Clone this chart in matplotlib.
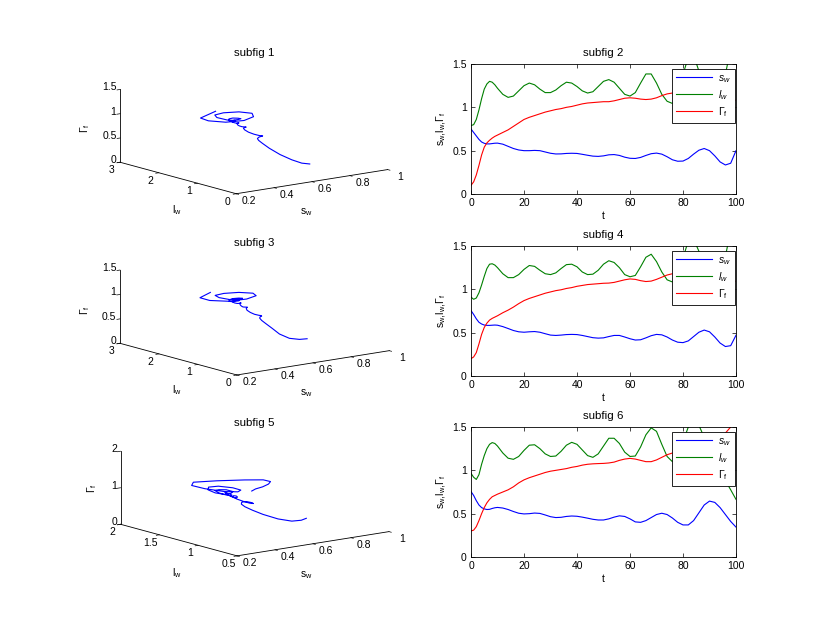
import numpy as np
import matplotlib
matplotlib.use('Agg')
import matplotlib.pyplot as plt
from matplotlib.transforms import offset_copy

plt.rcParams['font.family'] = ['Liberation Sans', 'DejaVu Sans']
plt.rcParams['font.size'] = 7.5
plt.rcParams['mathtext.fontset'] = 'custom'
plt.rcParams['mathtext.rm'] = 'Liberation Sans'
plt.rcParams['mathtext.it'] = 'Liberation Sans:italic'
plt.rcParams['mathtext.sf'] = 'Liberation Sans'
TITLE_FS = 8.25

# ---------------- data ----------------
t = [0, 1, 2, 3, 4, 5, 6, 7, 8, 9, 10, 12, 14, 16, 18, 20, 22, 24, 26, 28, 30,
     32, 34, 36, 38, 40, 42, 44, 46, 48, 50, 52, 54, 56, 58, 60, 62, 64, 66, 68, 70,
     72, 74, 76, 78, 80, 82, 84, 86, 88, 90, 92, 94, 96, 98, 100]

# run A (subfig 1 / subfig 2)
sw_A = [0.75, 0.71, 0.67, 0.63, 0.60, 0.585, 0.578, 0.578, 0.582, 0.586, 0.587,
        0.575, 0.55, 0.525, 0.508, 0.50, 0.50, 0.503, 0.50, 0.485, 0.47,
        0.462, 0.463, 0.468, 0.47, 0.468, 0.458, 0.447, 0.437, 0.434, 0.44,
        0.452, 0.455, 0.445, 0.425, 0.412, 0.41, 0.422, 0.445, 0.465, 0.472,
        0.46, 0.43, 0.395, 0.378, 0.38, 0.41, 0.46, 0.505, 0.525, 0.50,
        0.44, 0.37, 0.335, 0.355, 0.50]
lw_A = [0.79, 0.80, 0.86, 0.97, 1.10, 1.21, 1.27, 1.30, 1.29, 1.26, 1.22,
        1.15, 1.115, 1.13, 1.19, 1.25, 1.28, 1.26, 1.21, 1.17, 1.17,
        1.20, 1.25, 1.29, 1.28, 1.24, 1.19, 1.165, 1.18, 1.24, 1.30,
        1.32, 1.29, 1.22, 1.15, 1.13, 1.17, 1.28, 1.385, 1.385, 1.28,
        1.15, 1.07, 1.045, 1.10, 1.38, 1.58, 1.60, 1.42, 1.18, 1.02,
        0.97, 1.10, 1.38, 1.68, 2.00]
Gf_A = [0.10, 0.14, 0.22, 0.33, 0.45, 0.54, 0.59, 0.62, 0.645, 0.665, 0.68,
        0.71, 0.74, 0.78, 0.82, 0.86, 0.885, 0.905, 0.925, 0.945, 0.96,
        0.975, 0.985, 1.0, 1.01, 1.025, 1.04, 1.05, 1.055, 1.06, 1.065,
        1.065, 1.075, 1.09, 1.105, 1.11, 1.105, 1.095, 1.09, 1.095, 1.11,
        1.135, 1.155, 1.165, 1.17, 1.16, 1.15, 1.16, 1.19, 1.2, 1.18,
        1.15, 1.13, 1.12, 1.10, 1.08]

# run B (subfig 3 / subfig 4)
sw_B = [0.755, 0.71, 0.66, 0.62, 0.60, 0.588, 0.584, 0.584, 0.586, 0.588, 0.586,
        0.57, 0.548, 0.525, 0.51, 0.505, 0.51, 0.513, 0.505, 0.488, 0.472,
        0.468, 0.472, 0.478, 0.48, 0.478, 0.468, 0.455, 0.442, 0.437, 0.44,
        0.455, 0.468, 0.468, 0.45, 0.43, 0.415, 0.418, 0.44, 0.465, 0.48,
        0.475, 0.45, 0.415, 0.39, 0.385, 0.405, 0.455, 0.505, 0.53, 0.51,
        0.45, 0.38, 0.34, 0.35, 0.47]
lw_B = [0.91, 0.885, 0.90, 0.96, 1.05, 1.15, 1.24, 1.29, 1.295, 1.28, 1.25,
        1.18, 1.135, 1.135, 1.17, 1.23, 1.275, 1.265, 1.22, 1.18, 1.17,
        1.19, 1.24, 1.285, 1.29, 1.26, 1.20, 1.17, 1.175, 1.22, 1.29,
        1.33, 1.31, 1.25, 1.17, 1.145, 1.16, 1.26, 1.37, 1.405, 1.32,
        1.20, 1.11, 1.085, 1.12, 1.36, 1.56, 1.58, 1.44, 1.20, 1.02,
        0.97, 1.10, 1.38, 1.68, 2.00]
Gf_B = [0.20, 0.22, 0.27, 0.37, 0.48, 0.56, 0.61, 0.645, 0.665, 0.68, 0.695,
        0.73, 0.76, 0.795, 0.835, 0.87, 0.895, 0.915, 0.935, 0.955, 0.97,
        0.985, 0.995, 1.01, 1.02, 1.035, 1.045, 1.055, 1.06, 1.065, 1.07,
        1.072, 1.08, 1.095, 1.11, 1.12, 1.115, 1.10, 1.09, 1.095, 1.115,
        1.14, 1.165, 1.18, 1.185, 1.175, 1.165, 1.17, 1.19, 1.21, 1.21,
        1.19, 1.16, 1.14, 1.125, 1.09]

# run C (subfig 5 / subfig 6)
sw_C = [0.755, 0.71, 0.65, 0.60, 0.57, 0.555, 0.548, 0.55, 0.56, 0.568, 0.572,
        0.565, 0.548, 0.525, 0.505, 0.497, 0.50, 0.507, 0.503, 0.485, 0.465,
        0.455, 0.458, 0.468, 0.473, 0.47, 0.46, 0.448, 0.435, 0.427, 0.427,
        0.44, 0.46, 0.475, 0.468, 0.44, 0.405, 0.40, 0.42, 0.455, 0.49,
        0.505, 0.49, 0.45, 0.40, 0.37, 0.37, 0.42, 0.51, 0.60, 0.645,
        0.63, 0.57, 0.49, 0.41, 0.345]
lw_C = [0.965, 0.92, 0.895, 0.95, 1.07, 1.17, 1.25, 1.30, 1.32, 1.31, 1.28,
        1.20, 1.14, 1.127, 1.16, 1.23, 1.29, 1.295, 1.25, 1.19, 1.16,
        1.165, 1.22, 1.29, 1.323, 1.30, 1.235, 1.17, 1.15, 1.19, 1.28,
        1.37, 1.37, 1.31, 1.21, 1.16, 1.165, 1.27, 1.41, 1.49, 1.45,
        1.30, 1.16, 1.10, 1.15, 1.33, 1.50, 1.60, 1.52, 1.38, 1.25,
        1.12, 1.00, 0.88, 0.775, 0.665]
Gf_C = [0.30, 0.31, 0.35, 0.42, 0.50, 0.57, 0.625, 0.665, 0.695, 0.71, 0.725,
        0.75, 0.775, 0.81, 0.855, 0.89, 0.915, 0.935, 0.955, 0.975, 0.99,
        1.0, 1.01, 1.02, 1.035, 1.045, 1.06, 1.07, 1.075, 1.078, 1.08,
        1.085, 1.095, 1.115, 1.13, 1.138, 1.13, 1.115, 1.10, 1.10, 1.12,
        1.15, 1.18, 1.20, 1.22, 1.22, 1.21, 1.20, 1.21, 1.24, 1.28,
        1.32, 1.37, 1.43, 1.50, 1.56]

titles_3d = ['subfig 1', 'subfig 3', 'subfig 5']
titles_2d = ['subfig 2', 'subfig 4', 'subfig 6']
legend_labels = [r'$s_w$', r'$l_w$', r'$\Gamma_\mathrm{f}$']

t_ticks = [0, 20, 40, 60, 80, 100]
y_ticks = [0, 0.5, 1, 1.5]
y_ticklabels = ['0', '0.5', '1', '1.5']

sw_ticks = [0.2, 0.4, 0.6, 0.8, 1]
sw_ticklabels = ['0.2', '0.4', '0.6', '0.8', '1']
lw_ticks_AB = [0, 1, 2, 3]
lw_ticklabels_AB = ['0', '1', '2', '3']
lw_ticks_C = [0.5, 1, 1.5, 2]
lw_ticklabels_C = ['0.5', '1', '1.5', '2']
gf_ticks_AB = [0, 0.5, 1, 1.5]
gf_ticklabels_AB = ['0', '0.5', '1', '1.5']
gf_ticks_C = [0, 1, 2]
gf_ticklabels_C = ['0', '1', '2']

# ---------------- layout ----------------
W, H = 830, 642
fig = plt.figure(figsize=(W / 100, H / 100), dpi=100)

BLUE = (0, 0, 1)
GREEN = (0, 0.5, 0)
RED = (1, 0, 0)


def rect(l, r, tp, b):
    return [l / W, 1 - b / H, (r - l) / W, (b - tp) / H]


# ---- right column: time series ----
rows2d = [(64, 194), (246, 376), (427, 557)]
runs = [(sw_A, lw_A, Gf_A), (sw_B, lw_B, Gf_B), (sw_C, lw_C, Gf_C)]
for (tp, b), (sw, lw, gf), ttl in zip(rows2d, runs, titles_2d):
    ax = fig.add_axes(rect(471, 736, tp, b))
    l1, = ax.plot(t, sw, color=BLUE, lw=0.8)
    l2, = ax.plot(t, lw, color=GREEN, lw=0.8)
    l3, = ax.plot(t, gf, color=RED, lw=0.8)
    ax.set_xlim(0, 100)
    ax.set_ylim(0, 1.5)
    ax.set_xticks(t_ticks)
    ax.set_yticks(y_ticks)
    ax.set_yticklabels(y_ticklabels)
    ax.tick_params(direction='in', top=True, right=True, length=3, width=0.5, pad=3)
    for s in ax.spines.values():
        s.set_linewidth(0.6)
    ax.set_xlabel('t', labelpad=2)
    ax.set_ylabel(r'$\mathrm{s_w{,}l_w{,}\Gamma_f}$', labelpad=3)
    ax.set_title(ttl, pad=6, fontsize=TITLE_FS)
    leg = ax.legend([l1, l2, l3], legend_labels, loc='upper right',
                    bbox_to_anchor=(0.996, 0.962), borderaxespad=0,
                    fancybox=False, framealpha=1, edgecolor='k',
                    handlelength=3.4, handletextpad=0.6, labelspacing=0.3,
                    borderpad=0.4)
    leg.get_frame().set_linewidth(0.6)

# ---- left column: 3D trajectories ----
targets = [
    [(235, 194), (388, 170), (120, 162), (121, 89)],
    [(235, 375), (390, 351), (120, 343), (121, 270)],
    [(235, 556), (390, 532), (120, 523), (122, 452)],
]
lims3d = [
    ((0.2, 1), (0, 3), (0, 1.5)),
    ((0.2, 1), (0, 3), (0, 1.5)),
    ((0.2, 1), (0.5, 2), (0, 2)),
]
ticks3d = [
    (lw_ticks_AB, lw_ticklabels_AB, gf_ticks_AB, gf_ticklabels_AB),
    (lw_ticks_AB, lw_ticklabels_AB, gf_ticks_AB, gf_ticklabels_AB),
    (lw_ticks_C, lw_ticklabels_C, gf_ticks_C, gf_ticklabels_C),
]
title_pos = [(254, 55.5), (254, 246.5), (254, 425.5)]
axlabel_pos = [
    [(306, 212), (177, 210), (85, 128)],
    [(306, 393), (177, 390), (85, 310)],
    [(306, 575), (177, 573), (92, 488)],
]


def proj2d(ax, X, Y, Z):
    X, Y, Z = np.broadcast_arrays(np.atleast_1d(np.asarray(X, float)),
                                  np.atleast_1d(np.asarray(Y, float)),
                                  np.atleast_1d(np.asarray(Z, float)))
    v = ax.get_proj() @ np.vstack([X, Y, Z, np.ones_like(X)])
    return v[0] / v[3], v[1] / v[3]


def corners_px(ax, lims):
    (x0, x1), (y0, y1), (z0, z1) = lims
    xs, ys = proj2d(ax, [x0, x1, x0, x0], [y0, y0, y1, y1], [z0, z0, z0, z1])
    p = ax.transData.transform(np.column_stack([xs, ys]))
    p[:, 1] = H - p[:, 1]
    return p


def fit_axes(ax, lims, target):
    tg = np.array(target, float)
    for _ in range(3):
        fig.canvas.draw()
        p = corners_px(ax, lims)
        bb = ax.get_position()
        S = bb.width * W
        T = np.array([bb.x0 * W, H - (bb.y0 * H + bb.height * H)])
        pc, tc = p.mean(0), tg.mean(0)
        k = np.sum((tg - tc) * (p - pc)) / np.sum((p - pc) ** 2)
        Tn = tc - k * (pc - T)
        Sn = k * S
        ax.set_position([Tn[0] / W, (H - Tn[1] - Sn) / H, Sn / W, Sn / H])
    fig.canvas.draw()


def tick_texts(ax, X, Y, Z, labels, dx, dy, **kw):
    xs, ys = proj2d(ax, X, Y, Z)
    tr = offset_copy(ax.transData, fig=fig, x=dx, y=dy, units='dots')
    for px, py, s in zip(xs, ys, labels):
        ax.text2D(px, py, s, transform=tr, **kw)


for (sw, lw, gf), lims, tg, tk, ttl, tpos, lpos in zip(
        runs, lims3d, targets, ticks3d, titles_3d, title_pos, axlabel_pos):
    c = np.array(tg, float).mean(0)
    S0 = 300
    ax = fig.add_axes([(c[0] - S0 / 2) / W, (H - c[1] - S0 / 2) / H, S0 / W, S0 / H],
                      projection='3d')
    ax.patch.set_visible(False)
    ax.plot(sw, lw, gf, color=BLUE, lw=0.8)
    ax.set_xlim(*lims[0])
    ax.set_ylim(*lims[1])
    ax.set_zlim(*lims[2])
    ax.set_proj_type('ortho')
    ax.view_init(elev=12, azim=-127.5)
    ax.set_box_aspect((1, 1, 0.39))
    ax.set_xticks(sw_ticks)
    ax.set_yticks(tk[0])
    ax.set_zticks(tk[2])
    ax.grid(False)
    for axis in (ax.xaxis, ax.yaxis, ax.zaxis):
        axis.set_tick_params(labelbottom=False, labeltop=False)
        axis.set_pane_color((1, 1, 1, 0))
        axis.pane.set_edgecolor((1, 1, 1, 0))
        axis.line.set_color('k')
        axis.line.set_linewidth(0.6)
        axis._axinfo['tick']['inward_factor'] = 0.25
        axis._axinfo['tick']['outward_factor'] = 0.0
        axis._axinfo['tick']['linewidth'] = {True: 0.5, False: 0.5}
    fit_axes(ax, lims, tg)
    (x0, x1), (y0, y1), (z0, z1) = lims
    tick_texts(ax, sw_ticks, y0, z0, sw_ticklabels, 13, -7.5, ha='center', va='center')
    tick_texts(ax, x0, tk[0], z0, tk[1], -8.5, -8.0, ha='center', va='center')
    tick_texts(ax, x0, y1, tk[2], tk[3], -3.5, 2.0, ha='right', va='center')
    fig.text(tpos[0] / W, 1 - tpos[1] / H, ttl, ha='center', va='baseline',
             fontsize=TITLE_FS)
    fig.text(lpos[0][0] / W, 1 - lpos[0][1] / H, r'$\mathrm{s_w}$',
             ha='center', va='center')
    fig.text(lpos[1][0] / W, 1 - lpos[1][1] / H, r'$\mathrm{l_w}$',
             ha='center', va='center')
    fig.text(lpos[2][0] / W, 1 - lpos[2][1] / H, r'$\Gamma_\mathrm{f}$',
             ha='center', va='center', rotation=90)

fig.savefig('out.png', dpi=100)
